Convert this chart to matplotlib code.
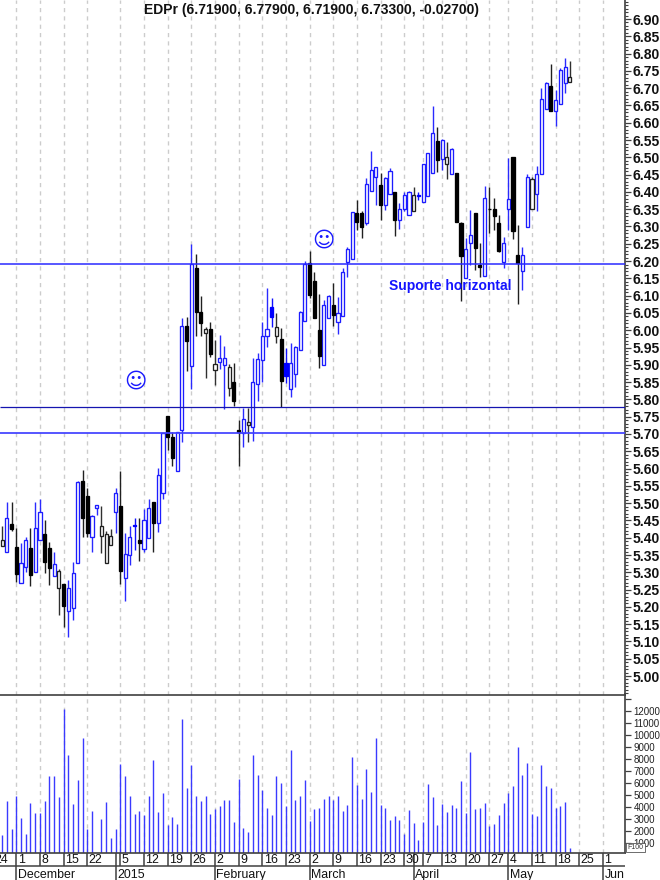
import matplotlib
matplotlib.use("Agg")
import matplotlib.pyplot as plt
import numpy as np

plt.rcParams['font.family'] = ['Liberation Sans', 'DejaVu Sans']

high = [5.435,5.502,5.502,5.428,5.384,5.403,5.429,5.502,5.513,5.452,5.389,5.358,5.309,5.267,5.277,5.329,5.564,5.596,5.544,5.466,
        5.495,5.492,5.418,5.425,5.543,5.593,5.413,5.434,5.458,5.458,5.483,5.511,5.502,5.601,5.704,5.752,5.705,5.707,6.035,6.039,
        6.250,6.221,6.100,6.010,6.023,5.972,5.985,5.953,5.902,5.904,5.741,5.776,5.776,5.919,5.935,6.023,6.121,6.092,6.049,6.006,
        5.948,5.964,5.953,6.056,6.201,6.230,6.169,6.104,6.088,6.101,6.138,6.097,6.179,6.241,6.342,6.376,6.344,6.439,6.517,6.473,
        6.455,6.444,6.468,6.400,6.367,6.400,6.404,6.413,6.401,6.482,6.513,6.648,6.588,6.552,6.543,6.526,6.456,6.313,6.268,6.349,
        6.338,6.251,6.417,6.415,6.381,6.333,6.270,6.497,6.500,6.304,6.241,6.451,6.444,6.475,6.701,6.718,6.769,6.694,6.757,6.788,6.779]
body_top = [5.393,5.457,5.439,5.373,5.326,5.393,5.370,5.429,5.473,5.412,5.370,5.323,5.303,5.266,5.255,5.297,5.562,5.564,5.521,5.462,
            5.495,5.434,5.410,5.406,5.529,5.492,5.352,5.403,5.438,5.392,5.450,5.486,5.502,5.581,5.704,5.752,5.692,5.707,6.012,6.012,
            6.192,6.181,6.052,6.003,6.004,5.903,5.921,5.921,5.893,5.849,5.712,5.742,5.736,5.851,5.918,5.982,6.003,6.066,6.010,5.976,
            5.904,5.906,5.952,6.052,6.192,6.194,6.143,6.001,6.072,6.100,6.072,6.049,6.169,6.236,6.342,6.340,6.338,6.424,6.462,6.471,
            6.420,6.439,6.461,6.400,6.351,6.392,6.401,6.392,6.392,6.482,6.513,6.571,6.548,6.550,6.502,6.523,6.456,6.311,6.235,6.274,
            6.338,6.190,6.382,6.352,6.351,6.309,6.253,6.379,6.500,6.219,6.217,6.444,6.436,6.453,6.670,6.715,6.706,6.667,6.752,6.762,6.733]
body_bot = [5.375,5.360,5.425,5.295,5.268,5.315,5.292,5.302,5.392,5.329,5.311,5.289,5.254,5.203,5.188,5.198,5.326,5.457,5.415,5.403,
            5.486,5.404,5.326,5.380,5.473,5.303,5.283,5.349,5.434,5.384,5.367,5.398,5.443,5.443,5.529,5.690,5.631,5.594,5.711,5.968,
            5.897,6.054,6.022,5.991,5.930,5.885,5.907,5.900,5.833,5.796,5.705,5.702,5.727,5.719,5.844,5.914,5.982,6.037,5.982,5.854,
            5.869,5.831,5.872,5.942,6.026,6.102,6.036,5.926,5.900,6.035,6.045,6.025,6.042,6.196,6.207,6.314,6.299,6.309,6.402,6.442,
            6.362,6.362,6.395,6.318,6.318,6.350,6.334,6.344,6.389,6.372,6.388,6.456,6.492,6.494,6.481,6.453,6.313,6.216,6.150,6.253,
            6.238,6.183,6.156,6.350,6.330,6.230,6.198,6.352,6.286,6.193,6.170,6.299,6.351,6.394,6.453,6.641,6.634,6.633,6.653,6.716,6.719]
low = [5.375,5.360,5.420,5.273,5.268,5.300,5.259,5.302,5.392,5.299,5.263,5.289,5.177,5.143,5.114,5.161,5.326,5.402,5.403,5.360,
       5.465,5.355,5.326,5.380,5.415,5.266,5.216,5.320,5.365,5.334,5.360,5.398,5.360,5.417,5.513,5.654,5.607,5.594,5.677,5.883,
       5.831,5.983,5.982,5.862,5.924,5.842,5.887,5.771,5.811,5.781,5.606,5.661,5.676,5.679,5.796,5.851,5.951,6.010,5.962,5.779,
       5.847,5.806,5.837,5.942,6.026,6.092,6.036,5.891,5.900,6.035,6.013,5.988,6.042,6.153,6.207,6.289,6.267,6.304,6.402,6.362,
       6.318,6.347,6.395,6.273,6.294,6.344,6.334,6.344,6.376,6.372,6.388,6.456,6.458,6.463,6.436,6.453,6.313,6.085,6.150,6.188,
       6.174,6.153,6.156,6.282,6.289,6.227,6.179,6.289,6.265,6.075,6.116,6.299,6.351,6.344,6.453,6.641,6.634,6.590,6.653,6.685,6.719]
# b = hollow blue, k = filled black, w = hollow black, f = filled blue
kinds = list("wbkkbbkbbk" "kbwkbbbkkb" "bwwwbkbbfk" "bbkbbkkbbk" "bkkwkwbbwk"
             "kbwbbbbfwk" "fbbbbkkkbb" "kbbbbkkbbb" "kbbkbbbwfb" "bbkbwbkkbb"
             "kkbkkkbbkk" "bbwbbbkbbbw")
volume = [1611,4472,2167,4917,3083,1694,4306,3472,3472,4472,6556,6556,4806,12139,8278,4222,6222,9750,2167,3639,
          0,3000,4389,1361,2167,7528,6556,4889,3389,3639,3306,4889,7861,3556,5139,2500,3167,2583,11306,5556,
          7444,4889,4472,4889,3389,3833,4056,4556,4556,2722,6306,2250,1917,8278,6639,5389,3889,3306,6556,5972,
          4056,8694,4556,4889,6222,2833,3806,3889,4639,4889,4556,4889,3639,4139,8111,5806,4639,7111,5222,9722,
          4139,3889,2889,3222,2889,1750,3722,2639,1250,2750,5889,4806,2500,4222,3556,4139,3889,6139,3472,8528,
          3806,3889,4306,2361,2583,3306,4306,5139,5722,9000,6611,7611,3389,3222,7444,5722,5528,3889,4056,4389,528]
week_pos = [-2,3,8,13,18,25,30,35,40,45,50,55,60,65,70,75,80,85,89,93,98,103,107,112,117,122,127]
week_labels = ["24","1","8","15","22","5","12","19","26","2","9","16","23","2","9","16","23","30","7","13","20","27","4","11","18","25","1"]
month_pos = [3,24,45,65,87,107,127]
month_labels = ["December","2015","February","March","April","May","Jun"]
support_levels = [6.191,5.777,5.703]
support_colors = ['#2a2aff','#1515b0','#4040ff']
support_widths = [1.1,0.9,1.25]
smiley_pos = [28.1,68.0]
smiley_val = [5.853,6.258]
price_ticks = [round(5.0+0.05*n,2) for n in range(39)]
volume_ticks = list(range(1000,13000,1000))

W,H = 660,880
fig = plt.figure(figsize=(W/100,H/100),dpi=100,facecolor='white')
def make_ax(x0,y0,x1,y1):
    return fig.add_axes([x0/W,1-y1/H,(x1-x0)/W,(y1-y0)/H])
XL = (-0.444,131.67)
ax1 = make_ax(0,0,625,694.5)
ax2 = make_ax(0,694.5,625,852.7)
ax3 = make_ax(0,852.7,625,880)
AX = '#404040'
idx = np.arange(len(high))
high,low,body_top,body_bot,volume = map(np.array,(high,low,body_top,body_bot,volume))
kinds = np.array(kinds)
edge = {'b':'#1c1cff','k':'#000000','w':'#202020','f':'#0000ff'}
wick = {'b':'#2a2aff','k':'#202020','w':'#303030','f':'#1010ff'}
face = {'b':'white','k':'#000000','w':'white','f':'#0000ff'}

grid_pos = [p for p in week_pos if p>=0]
for ax in (ax1,ax2):
    ax.set_xlim(*XL)
    ax.vlines(grid_pos,0,1,transform=ax.get_xaxis_transform(),colors='#cccccc',lw=1.0,linestyles=(0,(3,3)),zorder=1)
    ax.set_xticks([])
    ax.yaxis.tick_right()
    for s in ('left','bottom'):
        ax.spines[s].set_visible(False)
    ax.spines['right'].set_color(AX)
    ax.spines['right'].set_linewidth(1.2)
    ax.spines['top'].set_visible(False)
ax2.spines['top'].set_visible(True); ax2.spines['top'].set_color(AX); ax2.spines['top'].set_linewidth(1.2)

ax1.set_ylim(4.9466,6.955)
for k in 'bkwf':
    m = kinds==k
    ax1.vlines(idx[m],low[m],high[m],colors=wick[k],lw=1.0,zorder=2)
    ax1.bar(idx[m],np.maximum(body_top[m]-body_bot[m],0.002),bottom=body_bot[m],width=0.66,
            facecolor=face[k],edgecolor=edge[k],linewidth=0.95,zorder=3)
for v,c,w in zip(support_levels,support_colors,support_widths):
    ax1.hlines(v,*XL,colors=c,lw=w,zorder=4)
ax1.set_yticks(price_ticks)
ax1.set_yticklabels([f"{v:.2f}" for v in price_ticks],fontsize=10,fontweight='bold',color='#111111')
ax1.set_yticks(np.arange(4.95,6.96,0.01),minor=True)
ax1.tick_params(axis='y',which='major',length=4,width=0.9,color=AX,pad=1.5)
ax1.tick_params(axis='y',which='minor',length=2.2,width=0.8,color=AX)
for a,b in zip(smiley_pos,smiley_val):
    ax1.text(a,b,"\u263A",color='#1a1aff',fontsize=15.5,ha='center',va='center',family='DejaVu Sans',zorder=5)
ax1.text(81.8,6.128,"Suporte horizontal",color='#1414ff',fontsize=10,fontweight='bold',ha='left',va='center',zorder=5)
fig.text(312/W,1-10/H,"EDPr (6.71900, 6.77900, 6.71900, 6.73300, -0.02700)",fontsize=10,fontweight='bold',ha='center',va='center',color='#111111')

ax2.set_ylim(167,13350)
ax2.vlines(idx[volume>167],167,volume[volume>167],colors='#3a3aff',lw=1.0,zorder=2)
ax2.set_yticks(volume_ticks+[13000])
ax2.set_yticklabels([str(v) for v in volume_ticks]+[""],fontsize=7,color='#222222')
ax2.tick_params(axis='y',which='major',length=4,width=0.9,color=AX,pad=2)
ax2.text(1.004,0.012,"F100",transform=ax2.transAxes,fontsize=5,color='#333333',ha='left',va='bottom',
         bbox=dict(boxstyle='square,pad=0.15',fc='white',ec='#555555',lw=0.6),clip_on=False,zorder=6)

ax3.set_xlim(*XL); ax3.set_ylim(0,1); ax3.set_xticks([]); ax3.set_yticks([])
for s in ax3.spines.values():
    s.set_visible(False)
ax3.axhline(1,color=AX,lw=1.2,clip_on=False)
ax3.axhline(0.513,color=AX,lw=1.1)
ax3.vlines(week_pos+[24,87],0.513,1,colors=AX,lw=1.1)
ax3.vlines(month_pos,0,0.513,colors=AX,lw=1.1)
for p,l in zip(week_pos,week_labels):
    ax3.text(p+0.3,0.75,l,fontsize=8.9,ha='left',va='center',color='#111111')
for p,l in zip(month_pos,month_labels):
    ax3.text(p+0.3,0.2,l,fontsize=8.9,ha='left',va='center',color='#111111',clip_on=True)
fig.savefig('out.png',dpi=100,facecolor='white')
